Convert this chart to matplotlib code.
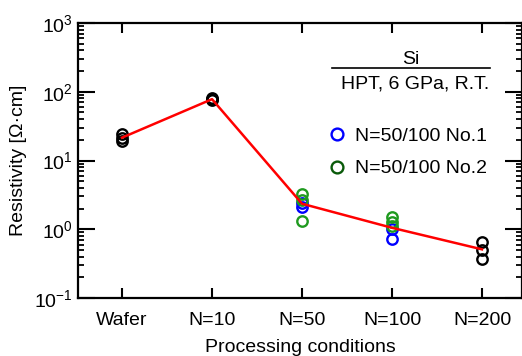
import numpy as np
import matplotlib
matplotlib.use('Agg')
import matplotlib.pyplot as plt
from matplotlib.lines import Line2D
from matplotlib.ticker import LogLocator, LogFormatterMathtext, NullFormatter

plt.rcParams['font.family'] = ['Liberation Sans', 'DejaVu Sans']
plt.rcParams['mathtext.fontset'] = 'custom'
plt.rcParams['mathtext.rm'] = 'Liberation Sans'
plt.rcParams['mathtext.default'] = 'regular'

# processing conditions
conditions = ['Wafer', 'N=10', 'N=50', 'N=100', 'N=200']

# average resistivity (red line)
mean_res = [21.5, 78, 2.35, 1.05, 0.51]

# individual measurements, black samples
black_x = [0, 0, 0, 1, 1, 1, 4, 4, 4]
black_y = [24.5, 21.5, 19.5, 76, 79, 82, 0.66, 0.50, 0.37]

# N=50/100 No.1 (blue)
blue_x = [2, 2, 3, 3]
blue_y = [2.4, 2.1, 1.0, 0.72]

# N=50/100 No.2 (green)
green_x = [2, 2, 2, 3, 3, 3]
green_y = [3.3, 2.65, 1.33, 1.52, 1.28, 1.1]

fig = plt.figure(figsize=(5.22, 3.56), dpi=100)
ax = fig.add_axes([78/522, 1-298/356, 444/522, 275/356])

x = np.arange(len(conditions))
mk = dict(marker='o', ls='none', ms=7.5, mew=1.7, mfc='none')
ax.plot(black_x, black_y, mec='black', zorder=3, **mk)
ax.plot(blue_x, blue_y, mec='#0000ff', zorder=3, **mk)
ax.plot(green_x, green_y, mec='#1f9a1f', zorder=4, **mk)
ax.plot(x, mean_res, color='#ff0000', lw=1.8, zorder=5)

ax.set_yscale('log')
ax.set_ylim(0.1, 1000)
ax.set_xlim(-0.489, 4.444)
ax.set_xticks(x)
ax.set_xticklabels(conditions, fontsize=14)
ax.yaxis.set_major_locator(LogLocator(base=10, numticks=10))
ax.yaxis.set_major_formatter(LogFormatterMathtext())
ax.yaxis.set_minor_locator(LogLocator(base=10, subs=np.arange(2, 10), numticks=20))
ax.yaxis.set_minor_formatter(NullFormatter())
ax.tick_params(axis='y', which='major', direction='in', length=12, width=1.5,
               right=True, labelsize=14, pad=4)
ax.tick_params(axis='y', which='minor', direction='in', length=4.5, width=1.3, right=True)
ax.tick_params(axis='x', which='major', direction='in', length=7, width=1.5,
               top=True, pad=10)
for s in ax.spines.values():
    s.set_linewidth(1.6)

ax.set_ylabel('Resistivity [\u03a9\u00b7cm]', fontsize=14, labelpad=5)
ax.set_xlabel('Processing conditions', fontsize=14, labelpad=7)

# header of legend
ax.text(0.75, 0.868, 'Si', transform=ax.transAxes, fontsize=14, ha='center', va='center')
ax.add_line(Line2D([0.572, 0.928], [0.836, 0.836], transform=ax.transAxes, color='black', lw=1.2))
ax.text(0.759, 0.778, 'HPT, 6 GPa, R.T.', transform=ax.transAxes, fontsize=14,
        ha='center', va='center')

handles = [Line2D([], [], marker='o', ls='none', ms=8.5, mew=1.7, mfc='none', mec='#0000ff'),
           Line2D([], [], marker='o', ls='none', ms=8.5, mew=1.7, mfc='none', mec='#0a5a0a')]
ax.legend(handles, ['N=50/100 No.1', 'N=50/100 No.2'], loc='upper left',
          bbox_to_anchor=(0.545, 0.655), frameon=False, fontsize=14,
          handlelength=0.8, handletextpad=0.5, labelspacing=0.75, borderpad=0)

fig.savefig('out.png', dpi=100)
